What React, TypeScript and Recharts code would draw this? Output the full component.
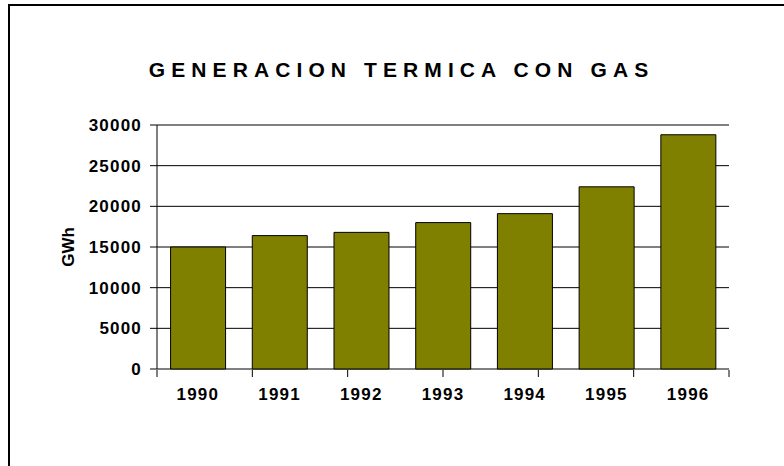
import { FC } from "react";
import { Bar, BarChart, CartesianGrid, XAxis, YAxis } from "recharts";

const years = ["1990", "1991", "1992", "1993", "1994", "1995", "1996"];
const gwh = [15000, 16400, 16800, 18000, 19100, 22400, 28800];
const yTicks = [0, 5000, 10000, 15000, 20000, 25000, 30000];
const edgeTicks = [0, 1, 2, 3, 4, 5, 6, 7];

const chartData = years.map((year, i) => ({ year, gwh: gwh[i] }));

const font = '"Liberation Sans", Arial, sans-serif';
const tickStyle = { fill: "#000", fontSize: 17, fontWeight: 700, fontFamily: font, letterSpacing: 1.2 };

const GwhLabel = ({ viewBox }: any) => {
    const x = viewBox.x + 68;
    const y = viewBox.y + viewBox.height / 2;
    return (
        <text
            x={x}
            y={y}
            transform={`rotate(-90, ${x}, ${y})`}
            textAnchor="middle"
            dominantBaseline="central"
            fontFamily={font}
            fontWeight={700}
            fontSize={17}
            fill="#000"
        >
            GWh
        </text>
    );
};

const NoLabel = () => <g />;

const App: FC = () => {
    return (
        <div style={{ position: "absolute", left: 0, top: 0, width: 784, height: 466, background: "#fff", overflow: "hidden" }}>
            <div
                style={{
                    position: "absolute",
                    left: 8,
                    top: 4,
                    width: 800,
                    height: 500,
                    borderTop: "2px solid #000",
                    borderLeft: "2px solid #000",
                }}
            />
            <div
                style={{
                    position: "absolute",
                    left: 0,
                    top: 59,
                    width: 784,
                    paddingLeft: 19,
                    boxSizing: "border-box",
                    textAlign: "center",
                    fontFamily: font,
                    fontWeight: 700,
                    fontSize: 21,
                    lineHeight: "21px",
                    letterSpacing: 6.1,
                    color: "#000",
                }}
            >
                GENERACION TERMICA CON GAS
            </div>
            <div style={{ position: "absolute", left: 0, top: 0 }}>
                <BarChart
                    width={784}
                    height={466}
                    data={chartData}
                    margin={{ top: 125, right: 55, bottom: 95, left: 0 }}
                    barCategoryGap="16.6%"
                >
                    <CartesianGrid vertical={false} stroke="#000" strokeOpacity={1} />
                    <XAxis
                        xAxisId="cat"
                        dataKey="year"
                        height={1}
                        tickLine={false}
                        axisLine={false}
                        tickSize={7}
                        tickMargin={12}
                        tick={tickStyle}
                        interval={0}
                    />
                    <XAxis
                        xAxisId="edge"
                        type="number"
                        domain={[0, 7]}
                        allowDataOverflow
                        ticks={edgeTicks}
                        interval={0}
                        height={1}
                        tick={<NoLabel />}
                        tickSize={7}
                        tickLine={{ stroke: "#000" }}
                        axisLine={false}
                    />
                    <YAxis
                        width={157}
                        domain={[0, 30000]}
                        ticks={yTicks}
                        interval={0}
                        tickSize={7}
                        tickMargin={8}
                        tick={tickStyle}
                        tickLine={{ stroke: "#000" }}
                        axisLine={{ stroke: "#000" }}
                        label={<GwhLabel />}
                    />
                    <Bar xAxisId="cat" dataKey="gwh" fill="#808000" stroke="#000" strokeWidth={1} isAnimationActive={false} />
                </BarChart>
            </div>
        </div>
    );
};

export default App;
